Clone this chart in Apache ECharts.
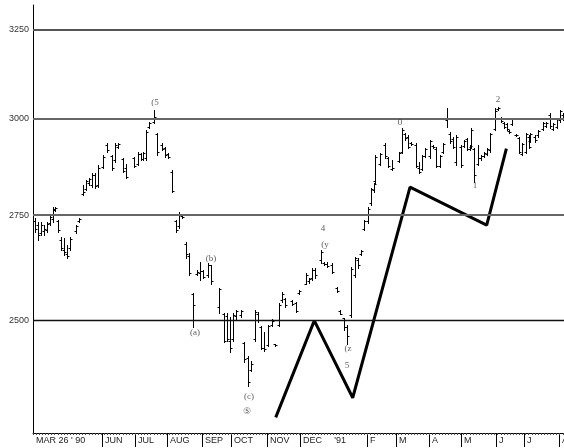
<!DOCTYPE html>
<html>
<head>
<meta charset="utf-8">
<script src="https://cdn.jsdelivr.net/npm/echarts@6/dist/echarts.min.js"></script>
<style>
  html, body { margin: 0; padding: 0; background: #fff; }
  #chart { width: 564px; height: 448px; }
</style>
</head>
<body>
<div id="chart"></div>
<script>
// Daily price bars, trading-day index counted from the Mar 26 '90 session
const days = [1,3,5,7,9,11,13,14,16,18,20,22,24,28,30,32,34,36,38,40,42,45,48,51,53,55,58,60,65,68,70,71,73,75,78,80,83,85,87,90,92,94,96,99,101,103,106,108,110,113,115,120,123,125,127,129,131,134,136,139,141,143,145,147,149,152,154,156,159,161,163,167,170,172,176,178,180,182,186,188,190,193,196,198,201,203,205,208,210,212,214,216,218,220,221,224,227,229,232,236,238,240,242,244,247,249,251,253,256,258,260,263,265,267,269,271,273,276,278,280,282,283,285,287,289,291,293,295,298,300,302,304,306,307,309,312,314,316,318,320,321,324,326,329,331,334,336,338,340,342];
const opens = [2735,2725,2705,2710,2712,2730,2740,2762,2735,2690,2665,2655,2670,2710,2735,2802,2815,2830,2825,2850,2825,2872,2930,2900,2890,2925,2893,2870,2895,2880,2905,2892,2895,2978,2992,2958,2930,2922,2905,2860,2735,2722,2748,2680,2650,2560,2608,2610,2615,2605,2628,2530,2515,2510,2455,2460,2510,2512,2450,2418,2392,2460,2515,2485,2440,2445,2490,2447,2490,2548,2550,2545,2540,2564,2585,2590,2598,2618,2640,2634,2632,2630,2574,2522,2505,2485,2512,2605,2640,2655,2715,2735,2780,2812,2835,2880,2930,2895,2866,2888,2912,2958,2950,2935,2930,2870,2866,2900,2900,2928,2920,2875,2912,2995,2960,2945,2885,2925,2928,2945,2918,2925,2918,2880,2895,2900,2905,2915,2972,3026,3003,2989,2985,2968,2986,2956,2948,2905,2912,2950,2940,2952,2955,2972,2980,3010,2972,2978,2995,3010];
const highs = [2743,2733,2733,2726,2733,2750,2770,2770,2738,2696,2694,2677,2696,2726,2743,2826,2839,2844,2856,2856,2877,2903,2935,2903,2935,2935,2895,2880,2898,2911,2909,2911,2970,2991,3024,2962,2935,2924,2909,2864,2738,2758,2750,2684,2657,2564,2617,2636,2617,2634,2629,2574,2518,2518,2509,2518,2525,2525,2452,2421,2411,2525,2520,2487,2474,2491,2503,2449,2540,2566,2552,2547,2543,2571,2610,2599,2622,2622,2665,2636,2636,2634,2576,2525,2507,2491,2624,2648,2646,2665,2738,2770,2818,2831,2903,2909,2935,2898,2890,2911,2975,2962,2956,2937,2935,2885,2903,2922,2943,2930,2924,2903,2935,3029,2964,2951,2956,2930,2943,2948,2930,2975,2922,2930,2903,2911,2922,2962,3029,3032,3005,2991,2988,2970,3002,2958,2951,2935,2962,2956,2962,2956,2970,2991,2991,3015,2988,3002,3024,3015];
const lows = [2708,2689,2701,2701,2708,2726,2733,2760,2708,2665,2653,2646,2665,2706,2733,2800,2813,2826,2821,2818,2821,2869,2911,2864,2885,2922,2859,2844,2872,2877,2890,2890,2890,2975,2989,2903,2916,2898,2895,2808,2708,2718,2742,2646,2606,2485,2606,2594,2599,2601,2583,2518,2452,2454,2430,2454,2503,2509,2409,2356,2388,2454,2498,2436,2432,2443,2487,2443,2487,2543,2531,2536,2520,2562,2583,2587,2594,2599,2634,2629,2624,2610,2566,2514,2480,2447,2509,2601,2622,2653,2713,2731,2775,2808,2831,2877,2895,2872,2864,2885,2909,2943,2922,2930,2872,2856,2864,2898,2895,2922,2872,2872,2909,2978,2935,2922,2877,2872,2925,2916,2916,2922,2834,2877,2890,2898,2903,2911,2970,3024,2991,2975,2970,2962,2983,2953,2909,2903,2909,2922,2938,2938,2951,2970,2978,2975,2970,2975,2991,2996];
const closes = [2715,2700,2725,2715,2728,2745,2765,2768,2712,2670,2660,2650,2692,2722,2740,2808,2835,2840,2852,2822,2870,2898,2915,2870,2930,2932,2862,2846,2875,2905,2892,2908,2965,2988,3005,2910,2920,2902,2897,2810,2712,2752,2745,2655,2610,2536,2612,2615,2600,2630,2590,2572,2455,2460,2440,2512,2522,2522,2415,2365,2405,2520,2502,2440,2436,2488,2500,2445,2536,2562,2535,2538,2522,2569,2605,2596,2618,2605,2660,2631,2626,2612,2568,2516,2485,2465,2620,2645,2628,2662,2735,2765,2815,2828,2898,2905,2900,2875,2870,2908,2970,2948,2925,2932,2875,2860,2900,2918,2940,2925,2875,2900,2932,3002,2940,2925,2950,2878,2940,2920,2928,2970,2850,2895,2900,2908,2918,2958,3022,3030,2994,2978,2973,2964,2998,2955,2912,2932,2958,2925,2958,2942,2966,2988,2988,2980,2985,2998,3020,3000];

// Projected wave path
const pathDays = [156.7, 181.6, 206.4, 243.4, 292.9, 305.6];
const pathValues = [2291, 2500, 2332, 2820, 2725, 2920];

// Wave count notes
const noteText = ['(5', '(a)', '(b)', '(c)', '\u2464', '4', '(y', '(z', '5', '0', '1', '2'];
const noteDays = [78.8, 104.6, 114.9, 139.4, 138.2, 187.2, 188.5, 203.4, 202.7, 236.9, 285.3, 300.2];
const noteValues = [3043, 2474, 2643, 2334, 2302, 2716, 2677, 2438, 2401, 2988, 2823, 3051];

// Price levels with labels (2500 drawn darker)
const levels = [2500, 2750, 3000, 3250];
const levelColors = ['#111', '#666', '#666', '#555'];
const levelWidths = [1.3, 1.8, 1.8, 1.8];

// Month boundaries on the trading-day scale
const monthStarts = [44.5, 65.8, 86.5, 109.1, 127.8, 151.1, 172.4, 215.6, 234.3, 255.6, 276.3, 298.9, 317, 339.6];
const monthNames = ['JUN', 'JUL', 'AUG', 'SEP', 'OCT', 'NOV', 'DEC', 'F', 'M', 'A', 'M', 'J', 'J', 'A'];
const startLabel = "MAR 26 ' 90";
const yearDay = 192.5;
const yearLabel = "'91";

const DAY_MIN = 0, DAY_MAX = 342.8;
const PRICE_MIN = 2259, PRICE_MAX = 3324;

const labelMap = new Map();
labelMap.set(0, startLabel);
labelMap.set(yearDay, yearLabel);
monthStarts.forEach((d, k) => labelMap.set(d, monthNames[k]));
const labelValues = Array.from(labelMap.keys()).sort((a, b) => a - b);

const bars = days.map((d, k) => [d, opens[k], highs[k], lows[k], closes[k]]);

const chart = echarts.init(document.getElementById('chart'), null, { renderer: 'canvas' });

function renderBar(params, api) {
  const d = api.value(0);
  const pO = api.coord([d, api.value(1)]);
  const pH = api.coord([d, api.value(2)]);
  const pL = api.coord([d, api.value(3)]);
  const pC = api.coord([d, api.value(4)]);
  const x = Math.round(pH[0]) + 0.5;
  const oy = Math.round(pO[1]) + 0.5;
  const cy = Math.round(pC[1]) + 0.5;
  const st = { stroke: '#000', lineWidth: 1 };
  return {
    type: 'group',
    children: [
      { type: 'line', shape: { x1: x, y1: Math.round(pH[1]), x2: x, y2: Math.round(pL[1]) + 1 }, style: st },
      { type: 'line', shape: { x1: x - 2, y1: oy, x2: x, y2: oy }, style: st },
      { type: 'line', shape: { x1: x, y1: cy, x2: x + 2, y2: cy }, style: st }
    ]
  };
}

chart.setOption({
  animation: false,
  backgroundColor: '#fff',
  grid: { left: 33, right: 0, top: 5, bottom: 15, containLabel: false, outerBoundsMode: 'none' },
  xAxis: [
    {
      type: 'value', min: DAY_MIN, max: DAY_MAX,
      axisLine: { show: true, lineStyle: { color: '#000', width: 1 } },
      axisTick: { show: true, customValues: monthStarts, length: 14, lineStyle: { color: '#000', width: 1 } },
      axisLabel: {
        show: true, customValues: labelValues, margin: 3,
        align: 'left', padding: [0, 0, 0, 3],
        fontFamily: 'Liberation Sans, Arial, sans-serif', fontSize: 9, color: '#222',
        formatter: v => labelMap.get(v) || ''
      },
      splitLine: { show: false }
    },
    {
      type: 'value', min: DAY_MIN, max: DAY_MAX, interval: 2, position: 'bottom',
      axisLine: { show: false },
      axisTick: { show: true, length: 2, lineStyle: { color: '#444', width: 1 } },
      axisLabel: { show: false },
      splitLine: { show: false }
    }
  ],
  yAxis: {
    type: 'log', min: PRICE_MIN, max: PRICE_MAX,
    axisLine: { show: true, lineStyle: { color: '#000', width: 1 } },
    axisTick: { show: false },
    axisLabel: { show: false },
    splitLine: { show: false }
  },
  series: [
    {
      type: 'custom',
      renderItem: renderBar,
      data: bars,
      encode: { x: 0, y: [1, 2, 3, 4] },
      z: 3,
      markLine: {
        silent: true,
        symbol: 'none',
        animation: false,
        label: {
          show: true, position: 'start', distance: 4,
          fontFamily: 'Liberation Sans, Arial, sans-serif', fontSize: 9, color: '#333',
          formatter: p => String(p.value)
        },
        data: levels.map((v, k) => ({
          yAxis: v,
          lineStyle: { type: 'solid', color: levelColors[k], width: levelWidths[k] }
        }))
      }
    },
    {
      type: 'line',
      data: pathDays.map((d, k) => [d, pathValues[k]]),
      showSymbol: false,
      symbol: 'none',
      lineStyle: { color: '#000', width: 3 },
      z: 4
    },
    {
      type: 'scatter',
      symbolSize: 0,
      data: noteDays.map((d, k) => ({ value: [d, noteValues[k]], name: noteText[k] })),
      label: {
        show: true, position: 'inside',
        fontFamily: 'Liberation Serif, Times New Roman, serif', fontSize: 9, color: '#333',
        formatter: p => p.name
      },
      z: 5
    }
  ]
});
</script>
</body>
</html>
